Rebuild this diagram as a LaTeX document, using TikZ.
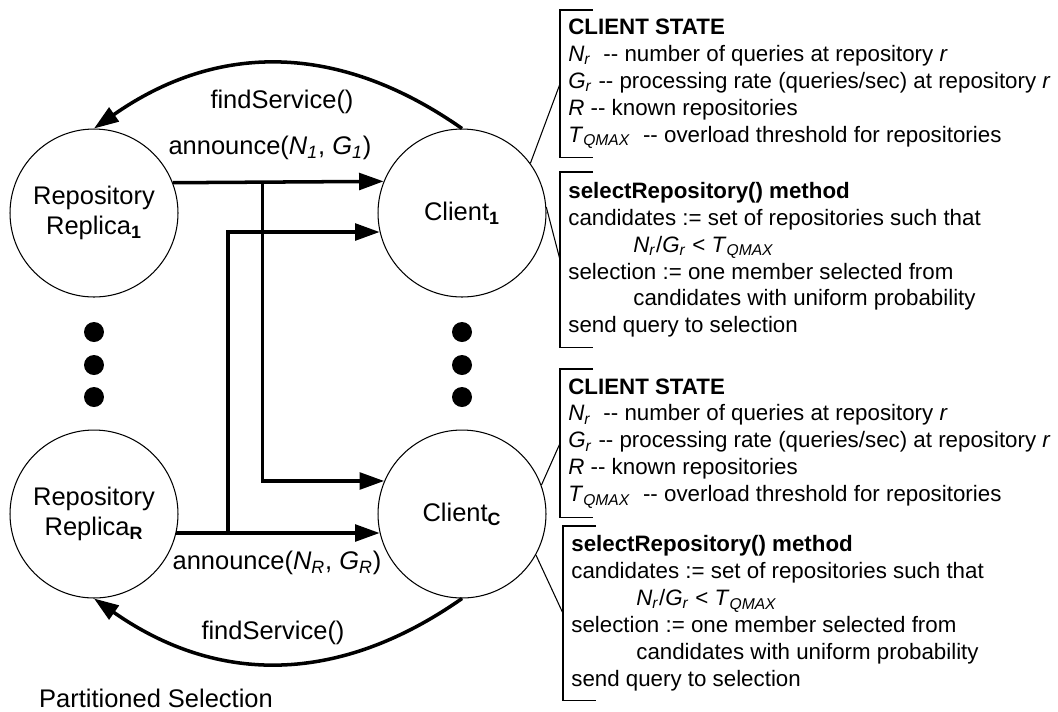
\documentclass[tikz,border=0pt]{standalone}
\usepackage{fontspec}
\setmainfont{Liberation Sans}
\usepackage{tikz}
\usetikzlibrary{arrows.meta,calc}

\newcommand{\vsub}[2]{\textit{#1}\textsubscript{\textit{#2}}}
\newcommand{\dd}{-{}-}

\begin{document}
\begin{tikzpicture}[x=0.02cm, y=-0.02cm, >={Triangle[length=14pt,width=9.5pt]},
  font=\fontsize{14.5}{17}\selectfont,
  peer/.style={circle, draw, line width=0.6pt, minimum size=3.36cm, inner sep=0pt, align=center},
  msg/.style={->, line width=2pt},
  link/.style={line width=0.6pt},
  note/.style={anchor=north west, align=left, inner xsep=0.16cm, inner ysep=0pt,
    font=\fontsize{12.7}{15.3}\selectfont}]
  \useasboundingbox (0,0) rectangle (1058,711);
  \node[peer] (r1) at (94,213) {Repository\\Replica\textsubscript{\textbf{1}}};
  \node[peer] (rR) at (94,514) {Repository\\Replica\textsubscript{\textbf{R}}};
  \node[peer] (c1) at (462,213) {Client\textsubscript{\textbf{1}}};
  \node[peer] (cC) at (462,514) {Client\textsubscript{\textbf{C}}};
  \foreach \y in {332,365,397} {
    \fill (94,\y) circle (0.2cm);
    \fill (462,\y) circle (0.2cm);
  }
  \draw[msg] (r1.21.66) -- coordinate[pos=.425] (j1) (c1.158.34);
  \draw[msg] (rR.-13.07) -- coordinate[pos=.255] (jR) (cC.193.07);
  \draw[msg] (j1) |- (cC.157.6);
  \draw[msg] (jR) |- (c1.193.07);
  \draw[msg] (c1.north) to[out=145,in=35,looseness=1.05] (r1.north);
  \draw[msg] (cC.south) to[out=-145,in=-35,looseness=1.05] (rR.south);
  \node (fs1) at (282,102) {findService()};
  \node (an1) at (270,148) {announce(\vsub{N}{1}, \vsub{G}{1})};
  \node (anR) at (277,563) {announce(\vsub{N}{R}, \vsub{G}{R})};
  \node (fsR) at (273,633) {findService()};
  \node (ps) at (156,698) {Partitioned Selection};
  % client state and selection notes
  \node[note, minimum height=2.94cm] (st1) at (560,10) {\textbf{CLIENT STATE}\\
    \vsub{N}{r}\ \ \dd{} number of queries at repository \textit{r}\\
    \vsub{G}{r} \dd{} processing rate (queries/sec) at repository \textit{r}\\
    \textit{R} \dd{} known repositories\\
    \vsub{T}{QMAX}\ \ \dd{} overload threshold for repositories};
  \node[note, minimum height=3.5cm] (sel1) at (560,172) {\textbf{selectRepository() method}\\
    candidates := set of repositories such that\\
    \hspace*{37pt}\vsub{N}{r}/\vsub{G}{r} < \vsub{T}{QMAX}\\
    selection := one member selected from\\
    \hspace*{37pt}candidates with uniform probability\\
    send query to selection};
  \node[note, minimum height=2.96cm] (stC) at (560,369) {\textbf{CLIENT STATE}\\
    \vsub{N}{r}\ \ \dd{} number of queries at repository \textit{r}\\
    \vsub{G}{r} \dd{} processing rate (queries/sec) at repository \textit{r}\\
    \textit{R} \dd{} known repositories\\
    \vsub{T}{QMAX}\ \ \dd{} overload threshold for repositories};
  \node[note, minimum height=3.48cm] (selC) at (563,526) {\textbf{selectRepository() method}\\
    candidates := set of repositories such that\\
    \hspace*{37pt}\vsub{N}{r}/\vsub{G}{r} < \vsub{T}{QMAX}\\
    selection := one member selected from\\
    \hspace*{37pt}candidates with uniform probability\\
    send query to selection};
  \foreach \n in {st1,sel1,stC,selC}
    \draw[line width=0.8pt] ([xshift=0.66cm]\n.north west) -- (\n.north west) -- (\n.south west) -- ([xshift=0.66cm]\n.south west);
  \draw[link] (c1.36) -- (st1.west);
  \draw[link] (c1.4) -- (sel1.west);
  \draw[link] (cC.20) -- (stC.west);
  \draw[link] (cC.-29) -- (selC.west);
\end{tikzpicture}
\end{document}
